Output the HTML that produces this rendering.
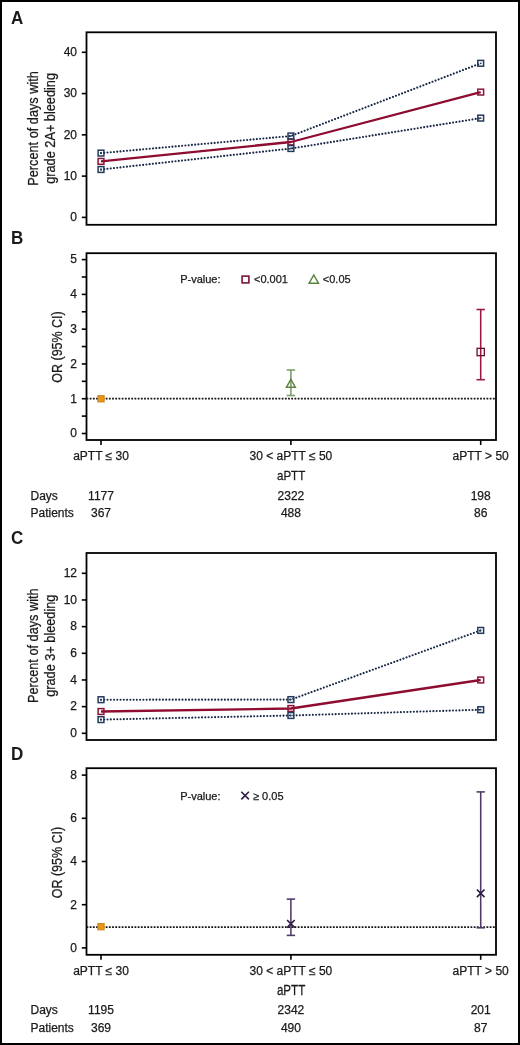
<!DOCTYPE html>
<html><head><meta charset="utf-8"><title>aPTT and bleeding</title>
<style>
html,body{margin:0;padding:0;background:#fff;}
body{width:520px;height:1045px;overflow:hidden;}
svg{display:block;}
svg text{font-family:"Liberation Sans", sans-serif;fill:#1a1a1a;stroke:#1a1a1a;stroke-width:0.25px;}
#wrap{will-change:transform;}
</style></head>
<body>
<div id="wrap">
<svg width="520" height="1045" viewBox="0 0 520 1045">
<rect x="0" y="0" width="520" height="1045" fill="#fff"/>
<rect x="1" y="1" width="518" height="1043" fill="none" stroke="#000" stroke-width="2"/>
<text transform="translate(10.9,23.6) scale(0.92,1)" font-size="18.5" font-weight="bold" style="stroke:none">A</text>
<rect x="86.5" y="32.3" width="409.5" height="192.5" fill="none" stroke="#000" stroke-width="1.8"/>
<line x1="81.8" y1="217.40" x2="86.5" y2="217.40" stroke="#000" stroke-width="1.6"/>
<text x="77.0" y="221.20" text-anchor="end" font-size="12">0</text>
<line x1="81.8" y1="176.12" x2="86.5" y2="176.12" stroke="#000" stroke-width="1.6"/>
<text x="77.0" y="179.93" text-anchor="end" font-size="12">10</text>
<line x1="81.8" y1="134.85" x2="86.5" y2="134.85" stroke="#000" stroke-width="1.6"/>
<text x="77.0" y="138.65" text-anchor="end" font-size="12">20</text>
<line x1="81.8" y1="93.57" x2="86.5" y2="93.57" stroke="#000" stroke-width="1.6"/>
<text x="77.0" y="97.37" text-anchor="end" font-size="12">30</text>
<line x1="81.8" y1="52.30" x2="86.5" y2="52.30" stroke="#000" stroke-width="1.6"/>
<text x="77.0" y="56.10" text-anchor="end" font-size="12">40</text>
<text transform="translate(37.6,128.4) rotate(-90) scale(0.91,1)" text-anchor="middle" font-size="14">Percent of days with</text>
<text transform="translate(55.3,128.4) rotate(-90) scale(0.91,1)" text-anchor="middle" font-size="14">grade 2A+ bleeding</text>
<polyline points="101.00,153.10 290.90,136.00 480.70,63.30" fill="none" stroke="#1a2946" stroke-width="2.1" stroke-dasharray="0.01 3.25" stroke-linecap="round"/>
<polyline points="101.00,169.50 290.90,148.50 480.70,118.10" fill="none" stroke="#1a2946" stroke-width="2.1" stroke-dasharray="0.01 3.25" stroke-linecap="round"/>
<polyline points="101.00,161.40 290.90,142.00 480.70,92.10" fill="none" stroke="#8e0c30" stroke-width="2.3" stroke-linejoin="round"/>
<rect x="98.10" y="158.50" width="5.8" height="5.8" fill="none" stroke="#8a1538" stroke-width="1.5"/>
<rect x="288.00" y="139.10" width="5.8" height="5.8" fill="none" stroke="#8a1538" stroke-width="1.5"/>
<rect x="477.80" y="89.20" width="5.8" height="5.8" fill="none" stroke="#8a1538" stroke-width="1.5"/>
<rect x="98.10" y="150.20" width="5.8" height="5.8" fill="none" stroke="#243a5c" stroke-width="1.5"/>
<circle cx="101.00" cy="153.10" r="0.9" fill="#243a5c"/>
<rect x="288.00" y="133.10" width="5.8" height="5.8" fill="none" stroke="#243a5c" stroke-width="1.5"/>
<circle cx="290.90" cy="136.00" r="0.9" fill="#243a5c"/>
<rect x="477.80" y="60.40" width="5.8" height="5.8" fill="none" stroke="#243a5c" stroke-width="1.5"/>
<circle cx="480.70" cy="63.30" r="0.9" fill="#243a5c"/>
<rect x="98.10" y="166.60" width="5.8" height="5.8" fill="none" stroke="#243a5c" stroke-width="1.5"/>
<circle cx="101.00" cy="169.50" r="0.9" fill="#243a5c"/>
<rect x="288.00" y="145.60" width="5.8" height="5.8" fill="none" stroke="#243a5c" stroke-width="1.5"/>
<circle cx="290.90" cy="148.50" r="0.9" fill="#243a5c"/>
<rect x="477.80" y="115.20" width="5.8" height="5.8" fill="none" stroke="#243a5c" stroke-width="1.5"/>
<circle cx="480.70" cy="118.10" r="0.9" fill="#243a5c"/>
<text transform="translate(10.9,243.8) scale(0.92,1)" font-size="18.5" font-weight="bold" style="stroke:none">B</text>
<rect x="86.5" y="253.2" width="409.5" height="186.8" fill="none" stroke="#000" stroke-width="1.8"/>
<line x1="81.8" y1="433.50" x2="86.5" y2="433.50" stroke="#000" stroke-width="1.6"/>
<text x="77.0" y="437.30" text-anchor="end" font-size="12">0</text>
<line x1="81.8" y1="398.72" x2="86.5" y2="398.72" stroke="#000" stroke-width="1.6"/>
<text x="77.0" y="402.52" text-anchor="end" font-size="12">1</text>
<line x1="81.8" y1="363.94" x2="86.5" y2="363.94" stroke="#000" stroke-width="1.6"/>
<text x="77.0" y="367.74" text-anchor="end" font-size="12">2</text>
<line x1="81.8" y1="329.16" x2="86.5" y2="329.16" stroke="#000" stroke-width="1.6"/>
<text x="77.0" y="332.96" text-anchor="end" font-size="12">3</text>
<line x1="81.8" y1="294.38" x2="86.5" y2="294.38" stroke="#000" stroke-width="1.6"/>
<text x="77.0" y="298.18" text-anchor="end" font-size="12">4</text>
<line x1="81.8" y1="259.60" x2="86.5" y2="259.60" stroke="#000" stroke-width="1.6"/>
<text x="77.0" y="263.40" text-anchor="end" font-size="12">5</text>
<line x1="81.8" y1="416.11" x2="86.5" y2="416.11" stroke="#000" stroke-width="1.6"/>
<line x1="81.8" y1="381.33" x2="86.5" y2="381.33" stroke="#000" stroke-width="1.6"/>
<line x1="81.8" y1="346.55" x2="86.5" y2="346.55" stroke="#000" stroke-width="1.6"/>
<line x1="81.8" y1="311.77" x2="86.5" y2="311.77" stroke="#000" stroke-width="1.6"/>
<line x1="81.8" y1="276.99" x2="86.5" y2="276.99" stroke="#000" stroke-width="1.6"/>
<line x1="101.0" y1="440.0" x2="101.0" y2="445.0" stroke="#000" stroke-width="1.6"/>
<line x1="290.9" y1="440.0" x2="290.9" y2="445.0" stroke="#000" stroke-width="1.6"/>
<line x1="480.7" y1="440.0" x2="480.7" y2="445.0" stroke="#000" stroke-width="1.6"/>
<text transform="translate(62.3,347.0) rotate(-90) scale(0.89,1)" text-anchor="middle" font-size="14">OR (95% CI)</text>
<line x1="86.5" y1="398.72" x2="496.0" y2="398.72" stroke="#111" stroke-width="1.7" stroke-dasharray="1.8 1.4"/>
<rect x="97.85" y="395.65" width="6.3" height="6.3" fill="#e8951a" stroke="#c98418" stroke-width="1.0"/>
<line x1="290.9" y1="370.0" x2="290.9" y2="395.5" stroke="#7a9c64" stroke-width="1.55"/>
<line x1="286.7" y1="370.0" x2="295.09999999999997" y2="370.0" stroke="#7a9c64" stroke-width="1.55"/>
<line x1="286.7" y1="395.5" x2="295.09999999999997" y2="395.5" stroke="#7a9c64" stroke-width="1.55"/>
<polygon points="290.90,379.30 295.40,387.30 286.40,387.30" fill="none" stroke="#5a8440" stroke-width="1.4" stroke-linejoin="miter"/>
<line x1="480.7" y1="309.5" x2="480.7" y2="379.7" stroke="#9a1840" stroke-width="1.55"/>
<line x1="476.5" y1="309.5" x2="484.9" y2="309.5" stroke="#9a1840" stroke-width="1.55"/>
<line x1="476.5" y1="379.7" x2="484.9" y2="379.7" stroke="#9a1840" stroke-width="1.55"/>
<rect x="477.05" y="348.35" width="7.3" height="7.3" fill="none" stroke="#6a1431" stroke-width="1.35"/>
<text x="180.2" y="283.0" font-size="11">P-value:</text>
<rect x="242.10" y="276.10" width="6.8" height="6.8" fill="none" stroke="#7a1535" stroke-width="1.6"/>
<text x="254.0" y="283.0" font-size="11">&lt;0.001</text>
<polygon points="313.80,275.00 318.50,283.20 309.10,283.20" fill="none" stroke="#5a8440" stroke-width="1.5" stroke-linejoin="miter"/>
<text x="322.8" y="283.0" font-size="11">&lt;0.05</text>
<text x="101.0" y="460.00" text-anchor="middle" font-size="12">aPTT ≤ 30</text>
<text x="290.9" y="460.00" text-anchor="middle" font-size="12">30 &lt; aPTT ≤ 50</text>
<text x="480.7" y="460.00" text-anchor="middle" font-size="12">aPTT &gt; 50</text>
<text transform="translate(291.09999999999997,479.90) scale(0.89,1)" text-anchor="middle" font-size="13">aPTT</text>
<text x="30.5" y="499.50" font-size="12">Days</text>
<text x="30.5" y="516.70" font-size="12">Patients</text>
<text x="101.0" y="499.50" text-anchor="middle" font-size="12">1177</text>
<text x="101.0" y="516.70" text-anchor="middle" font-size="12">367</text>
<text x="290.9" y="499.50" text-anchor="middle" font-size="12">2322</text>
<text x="290.9" y="516.70" text-anchor="middle" font-size="12">488</text>
<text x="480.7" y="499.50" text-anchor="middle" font-size="12">198</text>
<text x="480.7" y="516.70" text-anchor="middle" font-size="12">86</text>
<text transform="translate(10.9,543.8) scale(0.92,1)" font-size="18.5" font-weight="bold" style="stroke:none">C</text>
<rect x="86.5" y="553.0" width="409.5" height="187.0" fill="none" stroke="#000" stroke-width="1.8"/>
<line x1="81.8" y1="733.30" x2="86.5" y2="733.30" stroke="#000" stroke-width="1.6"/>
<text x="77.0" y="737.10" text-anchor="end" font-size="12">0</text>
<line x1="81.8" y1="706.63" x2="86.5" y2="706.63" stroke="#000" stroke-width="1.6"/>
<text x="77.0" y="710.43" text-anchor="end" font-size="12">2</text>
<line x1="81.8" y1="679.97" x2="86.5" y2="679.97" stroke="#000" stroke-width="1.6"/>
<text x="77.0" y="683.77" text-anchor="end" font-size="12">4</text>
<line x1="81.8" y1="653.30" x2="86.5" y2="653.30" stroke="#000" stroke-width="1.6"/>
<text x="77.0" y="657.10" text-anchor="end" font-size="12">6</text>
<line x1="81.8" y1="626.63" x2="86.5" y2="626.63" stroke="#000" stroke-width="1.6"/>
<text x="77.0" y="630.43" text-anchor="end" font-size="12">8</text>
<line x1="81.8" y1="599.97" x2="86.5" y2="599.97" stroke="#000" stroke-width="1.6"/>
<text x="77.0" y="603.77" text-anchor="end" font-size="12">10</text>
<line x1="81.8" y1="573.30" x2="86.5" y2="573.30" stroke="#000" stroke-width="1.6"/>
<text x="77.0" y="577.10" text-anchor="end" font-size="12">12</text>
<text transform="translate(37.6,645.7) rotate(-90) scale(0.91,1)" text-anchor="middle" font-size="14">Percent of days with</text>
<text transform="translate(55.3,645.7) rotate(-90) scale(0.91,1)" text-anchor="middle" font-size="14">grade 3+ bleeding</text>
<polyline points="101.00,699.70 290.90,699.60 480.70,630.40" fill="none" stroke="#1a2946" stroke-width="2.1" stroke-dasharray="0.01 3.25" stroke-linecap="round"/>
<polyline points="101.00,719.60 290.90,715.50 480.70,709.70" fill="none" stroke="#1a2946" stroke-width="2.1" stroke-dasharray="0.01 3.25" stroke-linecap="round"/>
<polyline points="101.00,711.50 290.90,708.50 480.70,680.00" fill="none" stroke="#8e0c30" stroke-width="2.3" stroke-linejoin="round"/>
<rect x="98.10" y="708.60" width="5.8" height="5.8" fill="none" stroke="#8a1538" stroke-width="1.5"/>
<rect x="288.00" y="705.60" width="5.8" height="5.8" fill="none" stroke="#8a1538" stroke-width="1.5"/>
<rect x="477.80" y="677.10" width="5.8" height="5.8" fill="none" stroke="#8a1538" stroke-width="1.5"/>
<rect x="98.10" y="696.80" width="5.8" height="5.8" fill="none" stroke="#243a5c" stroke-width="1.5"/>
<circle cx="101.00" cy="699.70" r="0.9" fill="#243a5c"/>
<rect x="288.00" y="696.70" width="5.8" height="5.8" fill="none" stroke="#243a5c" stroke-width="1.5"/>
<circle cx="290.90" cy="699.60" r="0.9" fill="#243a5c"/>
<rect x="477.80" y="627.50" width="5.8" height="5.8" fill="none" stroke="#243a5c" stroke-width="1.5"/>
<circle cx="480.70" cy="630.40" r="0.9" fill="#243a5c"/>
<rect x="98.10" y="716.70" width="5.8" height="5.8" fill="none" stroke="#243a5c" stroke-width="1.5"/>
<circle cx="101.00" cy="719.60" r="0.9" fill="#243a5c"/>
<rect x="288.00" y="712.60" width="5.8" height="5.8" fill="none" stroke="#243a5c" stroke-width="1.5"/>
<circle cx="290.90" cy="715.50" r="0.9" fill="#243a5c"/>
<rect x="477.80" y="706.80" width="5.8" height="5.8" fill="none" stroke="#243a5c" stroke-width="1.5"/>
<circle cx="480.70" cy="709.70" r="0.9" fill="#243a5c"/>
<text transform="translate(10.9,759.6) scale(0.92,1)" font-size="18.5" font-weight="bold" style="stroke:none">D</text>
<rect x="86.5" y="768.2" width="409.5" height="186.5999999999999" fill="none" stroke="#000" stroke-width="1.8"/>
<line x1="81.8" y1="947.90" x2="86.5" y2="947.90" stroke="#000" stroke-width="1.6"/>
<text x="77.0" y="951.70" text-anchor="end" font-size="12">0</text>
<line x1="81.8" y1="904.70" x2="86.5" y2="904.70" stroke="#000" stroke-width="1.6"/>
<text x="77.0" y="908.50" text-anchor="end" font-size="12">2</text>
<line x1="81.8" y1="861.50" x2="86.5" y2="861.50" stroke="#000" stroke-width="1.6"/>
<text x="77.0" y="865.30" text-anchor="end" font-size="12">4</text>
<line x1="81.8" y1="818.30" x2="86.5" y2="818.30" stroke="#000" stroke-width="1.6"/>
<text x="77.0" y="822.10" text-anchor="end" font-size="12">6</text>
<line x1="81.8" y1="775.10" x2="86.5" y2="775.10" stroke="#000" stroke-width="1.6"/>
<text x="77.0" y="778.90" text-anchor="end" font-size="12">8</text>
<line x1="101.0" y1="954.8" x2="101.0" y2="959.8" stroke="#000" stroke-width="1.6"/>
<line x1="290.9" y1="954.8" x2="290.9" y2="959.8" stroke="#000" stroke-width="1.6"/>
<line x1="480.7" y1="954.8" x2="480.7" y2="959.8" stroke="#000" stroke-width="1.6"/>
<text transform="translate(62.3,862.6) rotate(-90) scale(0.89,1)" text-anchor="middle" font-size="14">OR (95% CI)</text>
<line x1="86.5" y1="927.10" x2="496.0" y2="927.10" stroke="#111" stroke-width="1.7" stroke-dasharray="1.8 1.4"/>
<rect x="97.85" y="923.55" width="6.3" height="6.3" fill="#e8951a" stroke="#c98418" stroke-width="1.0"/>
<line x1="290.9" y1="899.1" x2="290.9" y2="935.4" stroke="#4d3868" stroke-width="1.55"/>
<line x1="286.7" y1="899.1" x2="295.09999999999997" y2="899.1" stroke="#4d3868" stroke-width="1.55"/>
<line x1="286.7" y1="935.4" x2="295.09999999999997" y2="935.4" stroke="#4d3868" stroke-width="1.55"/>
<path d="M287.10,920.00 L294.70,927.60 M294.70,920.00 L287.10,927.60" stroke="#2f1b45" stroke-width="1.7" fill="none"/>
<line x1="480.7" y1="791.9" x2="480.7" y2="927.8" stroke="#4d3868" stroke-width="1.55"/>
<line x1="476.5" y1="791.9" x2="484.9" y2="791.9" stroke="#4d3868" stroke-width="1.55"/>
<line x1="476.5" y1="927.8" x2="484.9" y2="927.8" stroke="#4d3868" stroke-width="1.55"/>
<path d="M476.90,889.50 L484.50,897.10 M484.50,889.50 L476.90,897.10" stroke="#2f1b45" stroke-width="1.7" fill="none"/>
<text x="180.2" y="799.5" font-size="11">P-value:</text>
<path d="M241.30,791.80 L248.90,799.40 M248.90,791.80 L241.30,799.40" stroke="#2f1b45" stroke-width="1.6" fill="none"/>
<text x="253.0" y="799.5" font-size="11">≥ 0.05</text>
<text x="101.0" y="974.80" text-anchor="middle" font-size="12">aPTT ≤ 30</text>
<text x="290.9" y="974.80" text-anchor="middle" font-size="12">30 &lt; aPTT ≤ 50</text>
<text x="480.7" y="974.80" text-anchor="middle" font-size="12">aPTT &gt; 50</text>
<text transform="translate(291.09999999999997,995.30) scale(0.75,1)" text-anchor="middle" font-size="15.5">aPTT</text>
<text x="30.5" y="1014.30" font-size="12">Days</text>
<text x="30.5" y="1031.50" font-size="12">Patients</text>
<text x="101.0" y="1014.30" text-anchor="middle" font-size="12">1195</text>
<text x="101.0" y="1031.50" text-anchor="middle" font-size="12">369</text>
<text x="290.9" y="1014.30" text-anchor="middle" font-size="12">2342</text>
<text x="290.9" y="1031.50" text-anchor="middle" font-size="12">490</text>
<text x="480.7" y="1014.30" text-anchor="middle" font-size="12">201</text>
<text x="480.7" y="1031.50" text-anchor="middle" font-size="12">87</text>
</svg>
</div>
</body></html>
